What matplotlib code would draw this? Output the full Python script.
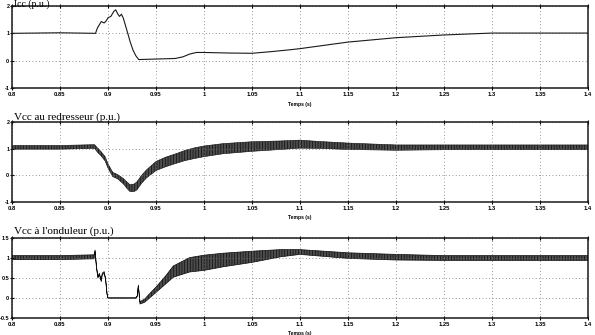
import matplotlib
matplotlib.use("Agg")
import matplotlib.pyplot as plt

plt.rcParams["hatch.linewidth"] = 0.5

# Icc (p.u.) - single trace
icc_t = [0.8, 0.85, 0.887, 0.889, 0.893, 0.896, 0.898, 0.900, 0.903, 0.906,
         0.908, 0.910, 0.912, 0.914, 0.916, 0.918, 0.921, 0.923, 0.926, 0.929,
         0.932, 0.95, 0.97, 0.978, 0.985, 0.992, 1.0, 1.025, 1.05, 1.07, 1.09,
         1.1, 1.15, 1.2, 1.25, 1.3, 1.35, 1.4]
icc_v = [1.0, 1.02, 1.0, 1.2, 1.43, 1.38, 1.45, 1.57, 1.62, 1.8,
         1.86, 1.72, 1.62, 1.7, 1.55, 1.31, 0.95, 0.7, 0.39, 0.18,
         0.04, 0.06, 0.08, 0.14, 0.24, 0.30, 0.30, 0.28, 0.27, 0.33, 0.40,
         0.44, 0.68, 0.84, 0.94, 1.01, 1.01, 1.01]

# Vcc au redresseur - ripple band (centre, half width)
red_t = [0.8, 0.85, 0.886, 0.889, 0.893, 0.897, 0.900, 0.905, 0.910, 0.916,
         0.920, 0.923, 0.927, 0.930, 0.935, 0.94, 0.95, 0.96, 0.97, 0.98,
         0.99, 1.0, 1.02, 1.05, 1.08, 1.1, 1.12, 1.15, 1.2, 1.25, 1.3,
         1.35, 1.4]
red_c = [1.05, 1.05, 1.08, 0.95, 0.8, 0.62, 0.35, 0.03, -0.05, -0.22,
         -0.38, -0.48, -0.47, -0.4, -0.15, 0.05, 0.35, 0.5, 0.62, 0.74,
         0.83, 0.9, 1.0, 1.08, 1.13, 1.17, 1.14, 1.09, 1.04, 1.05, 1.05,
         1.05, 1.05]
red_h = [0.07, 0.07, 0.07, 0.08, 0.08, 0.08, 0.08, 0.08, 0.08, 0.1,
         0.12, 0.13, 0.14, 0.15, 0.15, 0.15, 0.17, 0.18, 0.18, 0.19,
         0.2, 0.2, 0.19, 0.18, 0.16, 0.15, 0.13, 0.12, 0.1, 0.09, 0.09,
         0.09, 0.09]

# Vcc a l'onduleur - ripple band (centre, half width)
ond_t = [0.8, 0.85, 0.8855, 0.8865, 0.888, 0.8895, 0.891, 0.893, 0.894, 0.896,
         0.8975, 0.899, 0.9, 0.929, 0.9305, 0.9316, 0.9333, 0.938, 0.951, 0.96,
         0.968, 0.985, 1.0, 1.02, 1.05, 1.08, 1.1, 1.15, 1.2, 1.25, 1.3,
         1.35, 1.4]
ond_c = [1.01, 1.01, 1.03, 1.18, 0.77, 0.52, 0.6, 0.43, 0.6, 0.64,
         0.47, 0.1, 0.0, 0.0, 0.05, 0.31, -0.12, -0.07, 0.23, 0.45,
         0.66, 0.83, 0.88, 0.95, 1.03, 1.12, 1.15, 1.06, 1.02, 1.0, 1.0,
         1.0, 1.0]
ond_h = [0.05, 0.05, 0.05, 0.02, 0.02, 0.02, 0.02, 0.02, 0.02, 0.02,
         0.02, 0.01, 0.005, 0.005, 0.01, 0.01, 0.03, 0.04, 0.07, 0.1,
         0.14, 0.18, 0.19, 0.17, 0.14, 0.09, 0.06, 0.07, 0.07, 0.06, 0.06,
         0.06, 0.06]

x_ticks = [0.8, 0.85, 0.9, 0.95, 1.0, 1.05, 1.1, 1.15, 1.2, 1.25, 1.3, 1.35, 1.4]
x_labels = ["0.8", "0.85", "0.9", "0.95", "1", "1.05", "1.1", "1.15", "1.2",
            "1.25", "1.3", "1.35", "1.4"]
titles = ["Icc (p.u.)", "Vcc au redresseur (p.u.)", "Vcc à l'onduleur (p.u.)"]

fig = plt.figure(figsize=(5.95, 3.35), dpi=100)

# axes boxes in figure fractions (left, bottom, width, height)
boxes = [(12 / 595, 1 - 88 / 335, 576 / 595, 82 / 335),
         (12 / 595, 1 - 202 / 335, 576 / 595, 80 / 335),
         (12 / 595, 1 - 318 / 335, 576 / 595, 80 / 335)]
ylims = [(-1, 2), (-1, 2), (-0.5, 1.5)]
yticks = [[-1, 0, 1, 2], [-1, 0, 1, 2], [-0.5, 0, 0.5, 1, 1.5]]
ylabels = [["-1", "0", "1", "2"], ["-1", "0", "1", "2"],
           ["-0.5", "0", "0.5", "1", "1.5"]]
title_y = [1 - 6.5 / 335, 1 - 119.5 / 335, 1 - 234 / 335]
title_size = [7, 8, 8]

axes = []
for i in range(3):
    ax = fig.add_axes(boxes[i])
    ax.set_xlim(0.8, 1.4)
    ax.set_ylim(*ylims[i])
    ax.set_xticks(x_ticks)
    ax.set_xticklabels(x_labels, fontsize=4.2, fontweight="bold",
                       family="Liberation Sans")
    ax.set_yticks(yticks[i])
    ax.set_yticklabels(ylabels[i], fontsize=4.0, fontweight="bold",
                       family="Liberation Sans")
    ax.tick_params(axis="x", direction="inout", length=3, width=0.8, pad=1.5,
                   top=True)
    ax.tick_params(axis="y", direction="inout", length=3, width=0.8, pad=0.4)
    ax.grid(True, color="0.45", linestyle=(0, (1, 3)), linewidth=0.6)
    for s in ax.spines.values():
        s.set_linewidth(1.1)
        s.set_color("0.1")
    ax.text(1.1, -0.2, "Temps (s)", transform=ax.get_xaxis_transform(),
            ha="center", va="center", fontsize=3.6, fontweight="bold",
            family="Liberation Sans")
    fig.text(14 / 595, title_y[i], titles[i], family="Liberation Serif",
             fontsize=title_size[i], va="baseline", ha="left")
    axes.append(ax)

axes[0].plot(icc_t, icc_v, color="0.1", linewidth=0.8)

red_lo = [c - h for c, h in zip(red_c, red_h)]
red_hi = [c + h for c, h in zip(red_c, red_h)]
axes[1].fill_between(red_t, red_lo, red_hi, facecolor="0.3", hatch="||||||",
                     edgecolor="0.05", linewidth=0.4)

ond_lo = [c - h for c, h in zip(ond_c, ond_h)]
ond_hi = [c + h for c, h in zip(ond_c, ond_h)]
axes[2].fill_between(ond_t, ond_lo, ond_hi, facecolor="0.3", hatch="||||||",
                     edgecolor="0.05", linewidth=0.5)

fig.savefig("out.png", dpi=100)
